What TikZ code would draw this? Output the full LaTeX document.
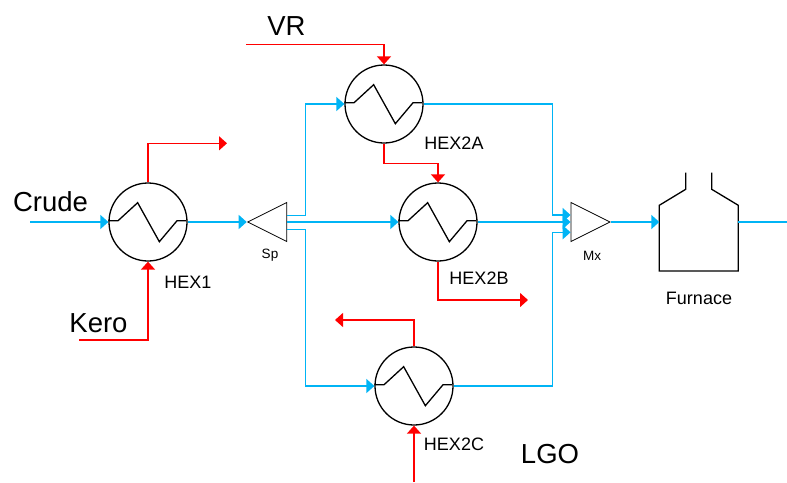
\documentclass[tikz,border=0pt]{standalone}
\usepackage{fontspec}
\setmainfont{Liberation Sans}
\usetikzlibrary{arrows.meta,calc,positioning,shapes.geometric}
\definecolor{crudeblue}{HTML}{00B4F5}
\newcommand{\zigzag}[1]{\draw[line width=1.3pt,line join=miter] (#1.west) ++ (0,-1.3) -- ++ (9.7,0) -- ++ (19.6,-18) -- ++ (21.7,39) -- ++ (17.7,-21) -- ++ (9.3,0);}
\begin{document}
\begin{tikzpicture}[x=1pt,y=-1pt,
hex/.style={circle,draw=black,line width=1.3pt,inner sep=0pt,minimum size=78pt},
tri/.style={isosceles triangle,isosceles triangle stretches,draw=black,line width=.8pt,inner sep=0pt,minimum width=39pt,minimum height=39pt},
cold/.style={crudeblue,line width=1.5pt},
hot/.style={red,line width=1.4pt},
coldin/.style={cold,-{Triangle[length=8pt,width=14pt]}},
hotin/.style={hot,-{Triangle[length=8pt,width=14pt]}},
big/.style={inner sep=0pt,font=\fontsize{27.5}{28}\selectfont},
tag/.style={inner sep=0pt,font=\fontsize{18}{20}\selectfont},
small/.style={inner sep=0pt,font=\fontsize{13.5}{16}\selectfont}]
 \useasboundingbox (0,0) rectangle (787,482);
 \node[hex] (HEX1) at (148,222) {};
 \node[hex] (HEX2A) at (384,104) {};
 \node[hex] (HEX2B) at (438,222) {};
 \node[hex] (HEX2C) at (414,386) {};
 \node[tri,shape border rotate=180,anchor=apex] (Sp) at (246.7,222) {};
 \node[tri,anchor=apex] (Mx) at (611,222) {};
 \foreach \X in {HEX1,HEX2A,HEX2B,HEX2C} {\zigzag{\X}}
 % furnace outline
 \coordinate (Fin) at (659.3,222);
 \coordinate (Fout) at (738.3,222);
 \draw[line width=1.3pt] (685.7,172.7) -- ++ (0,16.6) -- (659.3,205.3) -- (659.3,271) -- (738.3,271) -- (738.3,205.3) -- (711.7,189.3) -- ++ (0,-16.6);
 % free ends
 \coordinate (crudein) at (30,222);
 \coordinate (crudeout) at (787,222);
 \coordinate (keroin) at (79,340);
 \coordinate (keroout) at (227,143.3);
 \coordinate (vrin) at (246,44.7);
 \coordinate (lgoin) at (414,482);
 \coordinate (out2B) at (528,300);
 \coordinate (out2C) at (335,320);
 \coordinate (SpA) at ($(Sp.lower side)+(0,-6.3)$);
 \coordinate (SpC) at ($(Sp.lower side)+(0,7.7)$);
 \coordinate (MxA) at ($(Mx.lower side)+(0,-7)$);
 \coordinate (MxC) at ($(Mx.lower side)+(0,10.3)$);
 % cold side
 \draw[coldin] (crudein) -- (HEX1.west);
 \draw[coldin] (HEX1.east) -- (Sp.apex);
 \draw[coldin] (SpA) -| ++ (18.5,-40) |- (HEX2A.west);
 \draw[coldin] (Sp.lower side) -- (HEX2B.west);
 \draw[coldin] (SpC) -| ++ (18.5,40) |- (HEX2C.west);
 \draw[coldin] (HEX2A.east) -| ++ (129,60) |- (MxA);
 \draw[coldin] (HEX2B.east) -- (Mx.lower side);
 \draw[coldin] (HEX2C.east) -| ++ (99,-60) |- (MxC);
 \draw[coldin] (Mx.apex) -- (Fin);
 \draw[cold] (Fout) -- (crudeout);
 % hot side
 \draw[hotin] (keroin) -| (HEX1.south);
 \draw[hotin] (HEX1.north) |- (keroout);
 \draw[hotin] (vrin) -| (HEX2A.north);
 \draw[hotin] (HEX2A.south) -- ++ (0,19.7) -| (HEX2B.north);
 \draw[hotin] (HEX2B.south) |- (out2B);
 \draw[hotin] (HEX2C.north) |- (out2C);
 \draw[hotin] (lgoin) -- (HEX2C.south);
 % labels
 \foreach \X/\dx/\dy in {HEX1/40/60,HEX2A/70/39,HEX2B/41/56,HEX2C/40/58}
 {\node[tag] (lab\X) at ($(\X)+(\dx,\dy)$) {\X};}
 \node[small] (labSp) at (270,255) {Sp};
 \node[small] (labMx) at (592,256) {Mx};
 \node[tag] (labF) at (699,298) {Furnace};
 \node[big] (crude) at (50.5,202) {Crude};
 \node[big] (kero) at (98.5,323) {Kero};
 \node[big] (vr) at (286.5,26) {VR};
 \node[big] (lgo) at (550,454) {LGO};
\end{tikzpicture}
\end{document}
